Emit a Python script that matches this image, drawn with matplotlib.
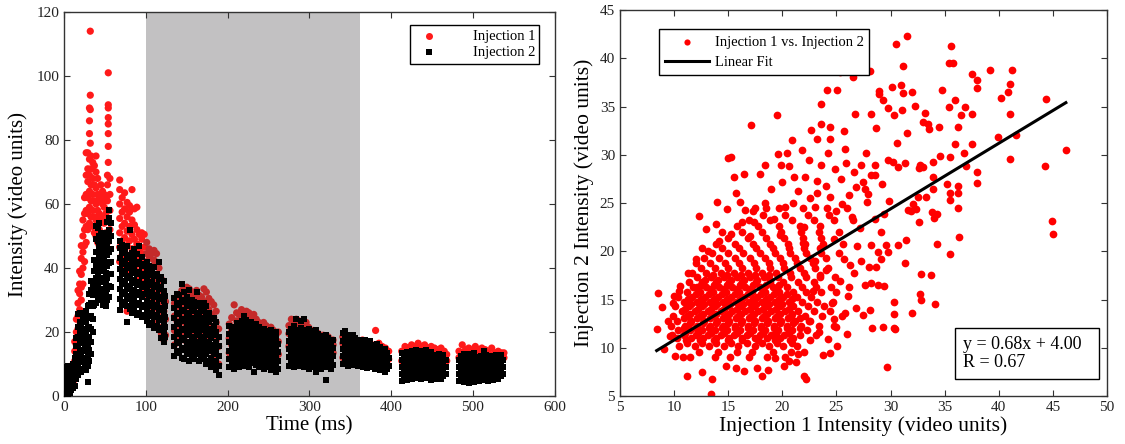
import numpy as np
import matplotlib.pyplot as plt

plt.rcParams['font.family'] = ['Liberation Serif', 'DejaVu Serif']

# ---- left panel: intensity vs time, one (time, [values]) entry per frame ----
inj1_frames = [
    # burst 1
    (1, [1.5, 4.0, 6.5, 9.0]), (3, [2.0, 5.0, 8.0]), (5, [1.0, 3.5, 6.0, 8.5]),
    (7, [2.5, 5.5, 8.0]), (9, [3.0, 6.0, 9.0]), (11, [4.0, 7.0, 10.0]),
    (13, [8.0, 11.0, 14.0, 17.0]), (15, [12.0, 16.0, 20.0, 24.0]),
    (17, [17.0, 21.0, 25.0, 29.0, 33.0]), (19, [22.0, 27.0, 32.0, 35.0, 39.0]),
    (21, [30.0, 34.0, 38.0, 43.0, 47.0]), (23, [35.0, 40.0, 45.0, 50.0, 55.0]),
    (25, [42.0, 47.0, 52.0, 57.0, 62.0]), (27, [48.0, 53.0, 58.0, 63.0, 69.0, 76.0]),
    (29, [52.0, 57.0, 62.0, 67.0, 71.0, 76.0]),
    (31, [54.0, 59.0, 64.0, 69.0, 74.0, 82.0, 86.0, 90.0]),
    (32, [114.0, 94.0, 89.5, 79.0]), (33, [56.0, 61.0, 66.0, 71.0, 75.0]),
    (35, [53.0, 58.0, 63.0, 68.0, 73.0]), (37, [51.0, 56.0, 61.0, 66.0, 72.0]),
    (39, [50.0, 55.0, 60.0, 65.0, 70.0, 75.0]), (41, [48.0, 53.0, 58.0, 63.0, 68.0]),
    (43, [47.0, 52.0, 57.0, 62.0]), (45, [46.0, 51.0, 56.0, 61.0, 66.0]),
    (47, [45.0, 50.0, 55.0, 60.0, 64.0]), (49, [44.0, 49.0, 54.0, 59.0, 63.0]),
    (51, [46.0, 51.0, 57.0, 62.0]), (53, [48.0, 55.0, 61.0, 66.0, 69.0]),
    (54, [101.0, 91.0, 90.0, 87.0, 85.0, 82.0, 78.0, 73.0]), (56, [52.0, 58.0, 63.0, 68.0]),
    # burst 2
    (68, [42.0, 46.5, 51.0, 55.5, 60.0, 64.5, 67.5]), (71, [44.0, 48.5, 53.0, 57.5, 62.0]),
    (74, [40.5, 45.0, 49.5, 54.0, 58.5, 63.5]), (77, [26.5, 42.5, 47.0, 51.5, 56.0, 60.5]),
    (80, [39.5, 44.0, 48.5, 53.0, 57.5, 59.5]), (83, [41.5, 46.0, 50.5, 55.0, 64.5]),
    (86, [40.0, 44.5, 49.0, 53.5, 58.5]), (89, [38.5, 43.0, 47.5, 52.0, 59.0]),
    (92, [37.0, 41.5, 46.0, 50.5]), (95, [35.5, 40.0, 44.5, 49.0, 51.0]),
    (98, [33.0, 37.5, 42.0, 46.5, 50.5]), (101, [31.0, 35.5, 40.0, 44.5, 48.0]),
    (104, [29.5, 34.0, 38.5, 43.0, 46.0]), (107, [27.0, 31.5, 36.0, 40.5, 44.5]),
    (110, [24.5, 29.0, 33.5, 38.0, 42.5, 45.5]), (113, [23.0, 27.5, 32.0, 36.5, 41.0, 44.5]),
    (116, [21.5, 26.0, 30.5, 35.0, 40.0]), (119, [19.5, 24.0, 28.5, 33.0, 36.5]),
    (122, [17.5, 22.0, 26.5, 31.0]), (124, [19.0, 24.0, 29.5]),
    # burst 3
    (135, [16.0, 20.5, 25.0, 29.0]), (138, [18.0, 23.5, 28.0, 31.0]), (141, [21.0, 26.0, 30.5]),
    (144, [19.5, 25.0, 30.0, 33.0]), (147, [17.5, 23.0, 28.5, 32.0]),
    (150, [22.0, 27.0, 31.5, 34.0]), (153, [20.5, 26.5, 30.5, 33.5]),
    (156, [19.0, 25.0, 29.5, 32.5]), (159, [21.5, 27.0, 31.0]),
    (162, [20.0, 25.5, 30.0, 33.0]), (165, [18.5, 24.0, 28.5, 31.5]),
    (168, [17.0, 23.0, 28.0, 31.0]), (171, [19.5, 25.0, 29.5, 33.5]),
    (174, [18.0, 23.5, 28.5, 32.5]), (177, [16.0, 21.5, 27.0, 30.5]),
    (180, [15.0, 20.5, 25.5, 29.5]), (183, [13.5, 19.0, 24.5, 28.5]),
    (186, [12.0, 17.5, 23.0, 26.5]), (189, [10.0, 15.5, 21.0]),
    # burst 4
    (202, [13.5, 18.0, 22.5]), (205, [16.0, 20.5, 24.5]), (208, [17.5, 21.5, 28.5]),
    (211, [19.0, 23.5, 26.0]), (214, [18.0, 22.5, 25.5]), (217, [19.5, 23.5, 27.0]),
    (220, [17.0, 21.0, 25.5]), (223, [19.0, 23.0, 26.5]), (226, [20.5, 24.0, 26.0]),
    (229, [18.5, 22.0, 25.0]), (232, [19.5, 23.0, 25.5]), (235, [17.5, 21.0, 24.0]),
    (238, [18.0, 21.5, 23.0]), (241, [16.5, 20.0, 22.5]), (244, [17.0, 20.5, 23.0]),
    (247, [16.0, 19.5, 22.0]), (250, [15.5, 18.5, 21.0]), (253, [16.5, 19.5, 21.5]),
    (256, [14.5, 18.0, 20.5]), (259, [8.0, 15.5, 19.0]), (262, [13.0, 17.0, 20.0]),
    # burst 5
    (275, [15.5, 19.5, 22.0]), (278, [17.0, 20.5, 24.0]), (281, [18.5, 21.5, 23.5]),
    (284, [17.5, 21.0, 24.0]), (287, [19.0, 22.0, 23.5]), (290, [17.0, 20.5, 22.5]),
    (293, [18.5, 21.5]), (296, [17.5, 20.5, 23.0]), (299, [16.5, 19.5, 21.5]),
    (302, [17.5, 20.5]), (305, [16.0, 19.0, 20.5]), (308, [16.5, 18.5, 20.0]),
    (311, [15.5, 18.0, 19.5]), (314, [16.0, 18.5]), (317, [14.5, 17.0, 19.0]),
    (320, [15.0, 17.5]), (323, [14.0, 16.5, 18.5]), (326, [14.5, 17.0]),
    (329, [13.5, 16.0, 17.5]),
    # burst 6
    (341, [12.0, 16.5, 18.5]), (345, [14.5, 17.5]), (349, [15.5, 17.5]), (353, [14.0, 17.0]),
    (357, [15.0, 17.0]), (361, [14.5, 16.5]), (365, [15.5, 17.5]), (369, [14.0, 16.5]),
    (373, [15.0, 17.0]), (377, [13.5, 16.0]), (381, [14.5, 20.5]), (385, [13.5, 16.5]),
    (389, [13.0, 15.5]), (393, [12.0, 15.0]), (397, [11.5, 14.0]),
    # burst 7
    (413, [11.0, 14.0]), (417, [12.0, 15.5]), (421, [13.0, 15.0]), (425, [14.0, 16.0]),
    (429, [13.5, 15.5]), (433, [14.5, 16.5]), (437, [13.0, 15.5]), (441, [14.0, 16.0]),
    (445, [13.5, 15.0]), (449, [14.0, 15.5]), (453, [13.0, 15.0]), (457, [12.5, 14.5]),
    (461, [13.5, 15.0]), (465, [12.0, 14.0]), (468, [11.0, 13.0]),
    # burst 8
    (483, [12.0, 14.0]), (487, [13.5, 16.0]), (491, [12.5, 14.5]), (495, [13.0, 15.0]),
    (499, [12.5, 14.0]), (503, [13.5, 15.5]), (507, [12.0, 14.5]), (511, [13.0, 15.0]),
    (515, [12.5, 14.5]), (519, [11.5, 13.5]), (523, [12.5, 15.0]), (527, [11.5, 13.5]),
    (531, [12.5, 14.0]), (535, [11.5, 13.5]), (538, [12.0, 13.5]),
]

inj2_frames = [
    # burst 1
    (1, [0.5, 2.5, 4.2, 6.1, 7.8, 9.0]), (3, [1.2, 3.4, 5.3, 7.2, 8.6]),
    (5, [0.3, 2.0, 3.9, 5.8, 7.5, 9.5]), (7, [1.0, 2.8, 4.7, 6.6, 8.3]),
    (9, [1.8, 3.6, 5.5, 7.4, 9.3]), (11, [2.5, 4.4, 6.3, 8.2, 10.1]),
    (13, [3.0, 5.5, 8.0, 10.5, 12.0]), (15, [5.2, 7.8, 10.4, 13.0, 15.6, 18.0]),
    (17, [6.5, 9.5, 12.5, 15.5, 18.5, 21.5, 25.5]), (19, [8.0, 11.0, 14.0, 17.0, 20.0, 23.0, 26.0]),
    (21, [7.5, 10.5, 13.5, 16.5, 19.5, 22.5]), (23, [8.5, 11.5, 14.5, 17.5, 20.5, 24.0]),
    (25, [9.0, 12.0, 15.0, 18.0, 21.0, 25.0]), (27, [8.0, 11.0, 14.0, 17.0, 20.0, 23.0, 26.5]),
    (29, [4.5, 9.5, 12.5, 15.5, 18.5, 21.5, 24.5, 28.0]),
    (31, [11.0, 14.5, 18.0, 21.5, 25.0, 28.5, 32.0]),
    (33, [13.0, 17.0, 21.0, 25.0, 29.0, 33.0, 36.0]), (35, [20.0, 24.0, 28.0, 31.5, 35.0]),
    (37, [28.5, 32.0, 35.5, 39.0, 42.5]), (39, [29.0, 33.0, 37.0, 41.0, 45.0, 49.0, 53.0]),
    (41, [31.0, 34.5, 38.0, 41.5, 45.0, 48.5, 52.5]), (43, [32.5, 36.0, 39.5, 43.0, 46.5, 50.0, 54.0]),
    (45, [30.0, 33.5, 37.0, 40.5, 44.0, 47.5, 51.0]), (47, [28.5, 32.0, 35.5, 39.0, 42.5, 46.0, 49.5]),
    (49, [29.5, 33.0, 36.5, 40.0, 43.5, 47.0]), (51, [28.0, 31.5, 35.0, 38.5, 42.0, 45.5, 49.0]),
    (53, [30.0, 33.5, 37.0, 40.5, 44.0, 47.5, 51.0, 54.5]),
    (55, [31.0, 34.5, 38.0, 41.5, 45.0, 48.5, 52.0, 55.5, 58.0]),
    (57, [34.0, 38.0, 42.0, 46.0, 50.0, 54.0]),
    # burst 2
    (68, [27.0, 30.2, 33.4, 36.6, 39.8, 43.0, 46.2, 48.5]), (71, [28.6, 31.8, 35.0, 38.2, 41.4, 44.6, 47.3]),
    (74, [29.4, 32.6, 35.8, 39.0, 42.2, 45.4]), (77, [23.0, 28.0, 31.2, 34.4, 37.6, 40.8, 44.0, 47.0]),
    (80, [27.2, 30.4, 33.6, 36.8, 40.0, 43.2, 52.0]), (83, [26.0, 28.8, 32.0, 35.2, 38.4, 41.6, 44.8]),
    (86, [26.8, 30.0, 33.2, 36.4, 39.6, 42.8, 46.0]), (89, [25.2, 28.4, 31.6, 34.8, 38.0, 41.2, 44.4]),
    (92, [26.0, 29.2, 32.4, 35.6, 38.8, 42.0, 47.0]), (95, [24.6, 27.8, 31.0, 34.2, 37.4, 40.6, 43.5]),
    (98, [25.4, 28.6, 31.8, 35.0, 38.2, 41.4]), (101, [23.4, 26.6, 29.8, 33.0, 36.2, 39.4, 42.0]),
    (104, [22.2, 25.0, 28.2, 31.4, 34.6, 37.8, 40.5]), (107, [22.8, 26.0, 29.2, 32.4, 35.6, 38.8]),
    (110, [21.4, 24.6, 27.8, 31.0, 34.2, 37.4, 40.2]), (113, [22.0, 25.2, 28.4, 31.6, 34.8, 38.0]),
    (116, [20.6, 23.8, 27.0, 30.2, 33.4, 36.6, 42.0]), (119, [18.0, 21.2, 24.4, 27.6, 30.8, 34.0, 37.2]),
    (122, [16.8, 20.0, 23.2, 26.4, 29.6, 32.8, 36.0]), (124, [18.4, 21.6, 24.8, 28.0, 31.2]),
    # burst 3
    (135, [12.5, 15.5, 18.5, 21.5, 24.5, 27.5, 30.5]), (138, [14.0, 17.0, 20.0, 23.0, 26.0, 29.0, 32.0]),
    (141, [13.5, 16.5, 19.5, 22.5, 25.5, 28.5, 31.5]), (144, [12.0, 15.0, 18.0, 21.0, 24.0, 27.0, 30.0, 35.0]),
    (147, [11.5, 14.5, 17.5, 20.5, 23.5, 26.5, 29.5, 32.5]), (150, [13.0, 16.0, 19.0, 22.0, 25.0, 28.0, 31.0]),
    (153, [11.0, 14.0, 17.0, 20.0, 23.0, 26.0, 29.0, 33.0]), (156, [12.5, 15.5, 18.5, 21.5, 24.5, 27.5, 30.0]),
    (159, [11.5, 14.5, 17.5, 20.5, 23.5, 26.5, 29.5]), (162, [13.0, 16.0, 19.0, 22.0, 25.0, 28.0, 32.5]),
    (165, [11.0, 14.0, 17.0, 20.0, 23.0, 26.0, 29.0]), (168, [12.5, 15.5, 18.5, 21.5, 24.5, 27.5]),
    (171, [11.5, 14.5, 17.5, 20.5, 23.5, 26.5, 29.0]), (174, [10.0, 13.0, 16.0, 19.0, 22.0, 25.0, 28.0]),
    (177, [11.0, 14.0, 17.0, 20.0, 23.0, 26.0]), (180, [9.0, 12.0, 15.0, 18.0, 21.0, 24.0]),
    (183, [10.0, 13.0, 16.0, 19.0, 22.0, 24.5]), (186, [8.0, 11.0, 14.0, 17.0, 20.0, 23.0]),
    (189, [6.5, 9.5, 12.5, 15.5, 18.5]),
    # burst 4
    (202, [9.0, 11.6, 14.2, 16.8, 19.4, 22.0]), (205, [10.3, 12.9, 15.5, 18.1, 20.7]),
    (208, [8.5, 11.1, 13.7, 16.3, 18.9, 21.5]), (211, [9.8, 12.4, 15.0, 17.6, 20.2, 22.8]),
    (214, [9.0, 11.6, 14.2, 16.8, 19.4, 22.0]), (217, [10.3, 12.9, 15.5, 18.1, 20.7, 23.3]),
    (220, [9.5, 12.1, 14.7, 17.3, 19.9, 22.5, 25.0]), (223, [10.8, 13.4, 16.0, 18.6, 21.2, 23.8]),
    (226, [9.0, 11.6, 14.2, 16.8, 19.4, 22.0]), (229, [10.3, 12.9, 15.5, 18.1, 20.7, 23.0]),
    (232, [7.5, 11.1, 13.7, 16.3, 18.9, 21.5]), (235, [9.8, 12.4, 15.0, 17.6, 20.2, 22.5]),
    (238, [9.0, 11.6, 14.2, 16.8, 19.4, 21.5]), (241, [10.3, 12.9, 15.5, 18.1, 20.7]),
    (244, [8.5, 11.1, 13.7, 16.3, 18.9, 21.0]), (247, [9.8, 12.4, 15.0, 17.6, 20.2]),
    (250, [9.0, 11.6, 14.2, 16.8, 19.4]), (253, [8.0, 10.3, 12.9, 15.5, 18.1, 20.5]),
    (256, [9.0, 11.6, 14.2, 16.8, 19.0]), (259, [7.5, 10.3, 12.9, 15.5, 18.1, 20.0]),
    (262, [8.5, 11.1, 13.7, 16.3]),
    # burst 5
    (275, [9.5, 12.1, 14.7, 17.3, 19.9]), (278, [10.8, 13.4, 16.0, 18.6, 21.0]),
    (281, [9.0, 11.6, 14.2, 16.8, 19.4, 22.0]), (284, [10.3, 12.9, 15.5, 18.1, 20.7, 24.0]),
    (287, [9.5, 12.1, 14.7, 17.3, 19.9]), (290, [10.8, 13.4, 16.0, 18.6, 21.2, 23.5]),
    (293, [9.0, 11.6, 14.2, 16.8, 19.4, 24.0]), (296, [10.3, 12.9, 15.5, 18.1, 20.7]),
    (299, [8.5, 11.1, 13.7, 16.3, 18.9, 21.0]), (302, [9.8, 12.4, 15.0, 17.6, 20.2]),
    (305, [9.0, 11.6, 14.2, 16.8, 19.4]), (308, [7.5, 10.3, 12.9, 15.5, 18.1, 20.5]),
    (311, [9.5, 12.1, 14.7, 17.3, 19.5]), (314, [8.5, 11.1, 13.7, 16.3, 18.9]),
    (317, [9.8, 12.4, 15.0, 17.6]), (320, [5.0, 9.0, 11.6, 14.2, 16.8, 19.0]),
    (323, [10.3, 12.9, 15.5, 18.1]), (326, [8.5, 11.1, 13.7, 16.3]),
    (329, [9.8, 12.4, 15.0, 17.5]),
    # burst 6
    (341, [10.0, 12.4, 14.8, 17.2, 19.6]), (344, [11.2, 13.6, 16.0, 18.4, 20.2]),
    (347, [9.5, 11.9, 14.3, 16.7, 19.1]), (350, [10.7, 13.1, 15.5, 17.9]),
    (353, [9.8, 12.2, 14.6, 17.0, 19.0]), (356, [11.0, 13.4, 15.8, 18.0]),
    (359, [9.5, 11.9, 14.3, 16.7]), (362, [10.7, 13.1, 15.5, 17.5]),
    (365, [9.2, 11.6, 14.0, 16.4]), (368, [10.4, 12.8, 15.2, 17.4]),
    (371, [8.8, 11.2, 13.6, 16.0]), (374, [10.0, 12.4, 14.8, 17.2]),
    (377, [9.0, 11.4, 13.8, 16.0]), (380, [8.5, 10.6, 13.0, 15.4]),
    (383, [9.4, 11.8, 14.2, 16.2]), (386, [8.0, 10.4, 12.8, 15.2]),
    (389, [9.2, 11.6, 14.0]), (392, [7.5, 10.0, 12.4, 14.8]),
    (395, [8.6, 11.0, 13.4]), (397, [9.5, 12.0]),
    # burst 7
    (413, [4.8, 7.0, 9.2, 11.4, 13.6]), (416, [5.9, 8.1, 10.3, 12.5]),
    (419, [5.0, 7.2, 9.4, 11.6, 13.8]), (422, [6.1, 8.3, 10.5, 12.7]),
    (425, [5.3, 7.5, 9.7, 11.9, 14.1]), (428, [6.4, 8.6, 10.8, 13.0]),
    (431, [5.6, 7.8, 10.0, 12.2, 14.4]), (434, [6.7, 8.9, 11.1, 13.3]),
    (437, [5.2, 7.4, 9.6, 11.8, 14.0]), (440, [6.3, 8.5, 10.7, 12.9]),
    (443, [5.5, 7.7, 9.9, 12.1, 14.3]), (446, [6.6, 8.8, 11.0, 13.2]),
    (449, [5.0, 7.2, 9.4, 11.6, 13.8]), (452, [6.1, 8.3, 10.5, 12.7]),
    (455, [5.4, 7.6, 9.8, 12.0]), (458, [6.5, 8.7, 10.9, 13.1]),
    (461, [5.2, 7.4, 9.6, 11.8]), (464, [6.3, 8.5, 10.7, 12.9]),
    (467, [7.0, 9.2, 11.4]),
    # burst 8
    (483, [4.8, 7.0, 9.2, 11.4]), (486, [5.9, 8.1, 10.3, 12.5]),
    (489, [4.5, 6.7, 8.9, 11.1, 13.0]), (492, [5.6, 7.8, 10.0, 12.2]),
    (495, [4.2, 6.4, 8.6, 10.8, 13.0]), (498, [5.3, 7.5, 9.7, 11.9]),
    (501, [4.5, 6.7, 8.9, 11.1, 13.3]), (504, [5.6, 7.8, 10.0, 12.2]),
    (507, [4.8, 7.0, 9.2, 11.4]), (510, [5.9, 8.1, 10.3, 12.5]),
    (513, [5.0, 7.2, 9.4, 11.6, 14.0]), (516, [6.1, 8.3, 10.5, 12.7]),
    (519, [4.8, 7.0, 9.2, 11.4]), (522, [5.9, 8.1, 10.3, 12.5]),
    (525, [5.0, 7.2, 9.4, 11.6]), (528, [6.1, 8.3, 10.5, 12.7]),
    (531, [5.2, 7.4, 9.6, 11.8]), (534, [6.3, 8.5, 10.7, 12.9]),
    (537, [7.0, 9.2, 11.4]),
]

shaded_window = (100, 362)

# ---- right panel: injection 1 vs injection 2 ----
# dense core, one (injection 2 value, [injection 1 values]) per row
core_rows = [
    (9.0, [11.5, 13.8, 15.2, 16.9, 18.6, 20.3]),
    (9.6, [12.3, 14.1, 15.8, 17.2, 19.1, 20.8, 22.0]),
    (10.2, [10.5, 11.9, 13.2, 14.6, 15.9, 17.5, 18.8, 20.1, 21.4]),
    (10.5, [11.2, 12.6, 13.9, 15.3, 16.7, 18.1, 19.5, 20.9]),
    (10.8, [11.1, 12.4, 13.7, 15.0, 16.3, 17.8, 19.3, 20.7, 22.6]),
    (11.05, [10.3, 11.6, 12.7, 13.9, 15.1, 16.3, 17.5, 18.6, 19.8, 21.0]),
    (11.3, [9.8, 10.9, 12.0, 13.1, 14.3, 15.5, 16.7, 17.9, 19.0, 20.2, 21.6, 23.1]),
    (11.55, [11.0, 12.2, 13.4, 14.6, 15.8, 17.0, 18.2, 19.4, 20.6]),
    (11.8, [10.4, 11.5, 12.6, 13.8, 14.9, 16.1, 17.3, 18.4, 19.6, 20.9, 22.3]),
    (12.05, [10.9, 12.0, 13.2, 14.4, 15.6, 16.8, 18.0, 19.2, 20.4, 21.6]),
    (12.3, [9.7, 11.0, 12.1, 13.3, 14.5, 15.6, 16.8, 18.0, 19.2, 20.4, 21.7, 23.4, 24.8]),
    (12.55, [11.5, 12.7, 13.9, 15.0, 16.2, 17.4, 18.6, 19.8, 21.0]),
    (12.8, [10.3, 11.6, 12.8, 14.0, 15.1, 16.3, 17.5, 18.7, 19.9, 21.2, 22.6]),
    (13.05, [10.9, 12.1, 13.3, 14.5, 15.7, 16.9, 18.1, 19.3, 20.5, 21.6]),
    (13.3, [9.9, 11.2, 12.4, 13.6, 14.8, 15.9, 17.1, 18.3, 19.5, 20.8, 22.1, 23.7, 25.5]),
    (13.55, [11.5, 12.7, 13.9, 15.1, 16.2, 17.4, 18.6, 19.8, 20.9]),
    (13.8, [10.7, 11.9, 13.1, 14.3, 15.4, 16.6, 17.8, 19.0, 20.3, 21.5, 22.9, 24.4]),
    (14.05, [11.0, 12.2, 13.4, 14.6, 15.8, 17.0, 18.2, 19.4, 20.6]),
    (14.3, [10.1, 11.4, 12.6, 13.8, 15.0, 16.2, 17.4, 18.6, 19.8, 21.0, 22.4, 23.9]),
    (14.55, [11.6, 12.8, 14.0, 15.2, 16.4, 17.6, 18.8, 20.0]),
    (14.8, [10.9, 12.1, 13.3, 14.5, 15.7, 16.9, 18.1, 19.3, 20.6, 21.8, 23.2, 24.7]),
    (15.05, [11.3, 12.5, 13.7, 14.9, 16.1, 17.3, 18.5, 19.7, 20.9]),
    (15.3, [10.4, 11.7, 12.9, 14.1, 15.3, 16.5, 17.7, 18.9, 20.1, 21.4, 22.7]),
    (15.55, [12.0, 13.2, 14.4, 15.6, 16.8, 18.0, 19.2, 20.4]),
    (15.8, [11.2, 12.4, 13.6, 14.8, 16.0, 17.2, 18.4, 19.7, 21.0, 22.2, 23.6, 25.0]),
    (16.05, [12.2, 13.4, 14.6, 15.8, 17.0, 18.2, 19.5]),
    (16.3, [11.8, 13.0, 14.2, 15.4, 16.6, 17.9, 19.1, 20.4, 21.8, 23.1, 24.5, 26.2]),
    (16.55, [12.5, 13.7, 14.9, 16.1, 17.3, 18.5, 19.7]),
    (16.8, [11.4, 12.6, 13.9, 15.1, 16.3, 17.6, 18.9, 20.1, 21.5, 22.9]),
    (17.05, [12.9, 14.1, 15.3, 16.5, 17.7, 18.9]),
    (17.3, [12.1, 13.4, 14.6, 15.8, 17.0, 18.3, 19.6, 20.8, 22.2, 23.5, 24.9]),
    (17.55, [13.6, 14.9, 16.2, 17.5, 18.8]),
    (17.8, [11.7, 13.0, 14.3, 15.5, 16.8, 18.1, 19.4, 20.7, 22.0]),
    (18.3, [12.5, 13.8, 15.0, 16.3, 17.6, 18.9, 20.2, 21.6, 23.0, 24.2]),
    (18.8, [12.0, 13.3, 14.7, 16.0, 17.4, 18.8, 20.1, 21.4, 22.8]),
    (19.3, [12.8, 14.2, 15.6, 17.0, 18.4, 19.8, 21.2, 22.6, 24.0]),
    (19.8, [13.5, 15.0, 16.4, 17.9, 19.3, 20.7, 22.2, 23.6, 25.2]),
    (20.3, [12.6, 14.4, 16.0, 17.6, 19.1, 20.6, 22.0, 23.5]),
    (20.8, [13.9, 15.6, 17.3, 18.9, 20.5, 22.1, 23.8, 25.6]),
    (21.4, [15.0, 16.8, 18.5, 20.2, 21.9, 23.6]),
    (22.0, [14.4, 16.3, 18.1, 19.9, 21.7, 23.4, 25.2]),
    (22.6, [15.8, 17.8, 19.7, 21.6, 23.5]),
    (23.2, [16.9, 18.9, 20.9, 22.9, 24.8, 26.5]),
    (23.8, [18.2, 20.3, 22.4, 24.3]),
    (24.5, [17.5, 19.7, 21.9, 24.1, 26.0]),
]

# scattered points outside the core, (injection 1, injection 2)
outer_pts = [
    (31.5, 42.3), (30.5, 41.5), (35.6, 41.3), (31.2, 39.2), (35.4, 39.5), (35.8, 39.5),
    (25.3, 38.6), (28.1, 38.7), (26.5, 38.1), (39.2, 38.8), (41.2, 38.8), (37.5, 38.4),
    (38.0, 37.8), (41.0, 37.4), (24.1, 36.7), (25.1, 36.7), (28.9, 36.6), (28.9, 36.3),
    (30.1, 37.0), (31.0, 37.2), (31.2, 36.4), (32.0, 36.5), (34.8, 36.7), (38.0, 36.9),
    (40.9, 36.5), (40.2, 35.9), (44.4, 35.8), (36.0, 35.7), (36.9, 35.0), (35.4, 35.0),
    (29.3, 35.7), (23.6, 35.3), (32.3, 35.1), (29.8, 34.9), (31.1, 34.7), (26.7, 34.2),
    (28.2, 34.2), (30.3, 34.1), (33.2, 34.3), (36.5, 34.1), (37.5, 34.2), (41.0, 34.2),
    (19.5, 34.1), (17.1, 33.1), (23.6, 33.2), (24.4, 32.9), (25.7, 32.5), (22.7, 32.6),
    (28.7, 32.8), (33.0, 33.4), (33.5, 33.2), (36.2, 32.9), (34.5, 32.9), (41.6, 32.1),
    (39.9, 31.9), (33.6, 32.7), (31.5, 32.3), (23.2, 31.6), (24.4, 31.6), (20.9, 31.5),
    (41.0, 29.6), (46.2, 30.5), (37.5, 31.1), (36.0, 31.1), (30.6, 31.2), (19.6, 30.1),
    (20.4, 30.2), (24.2, 30.2), (27.7, 30.2), (29.8, 29.5), (30.2, 29.3), (31.3, 29.2),
    (33.9, 29.3), (34.6, 29.9), (32.7, 29.0), (35.5, 29.8), (36.8, 30.2), (33.0, 28.7),
    (37.0, 28.9), (44.3, 28.9), (38.0, 28.2), (38.0, 27.1), (30.7, 28.7), (28.6, 29.0),
    (18.4, 29.0), (19.9, 29.0), (20.6, 28.8), (23.6, 29.0), (25.9, 29.2), (27.3, 29.0),
    (15.0, 29.7), (15.5, 27.7), (17.9, 28.0), (16.5, 28.0), (33.9, 26.5), (35.2, 27.0),
    (33.9, 27.7), (32.6, 28.6), (29.2, 27.0), (28.2, 27.9), (27.5, 27.2), (25.4, 27.5),
    (23.2, 27.3), (22.1, 27.7), (21.1, 27.7), (32.5, 25.6), (33.3, 25.6), (35.5, 26.0),
    (36.2, 26.0), (35.5, 25.3), (36.2, 26.8), (32.1, 24.9), (33.8, 24.1), (34.0, 23.5),
    (34.3, 23.9), (31.6, 24.3), (31.9, 24.2), (32.4, 24.4), (36.2, 24.5), (32.6, 23.0),
    (44.9, 23.1), (45.0, 21.8), (36.3, 21.5), (34.3, 20.8), (35.5, 19.7), (31.4, 21.2),
    (30.7, 20.7), (29.6, 20.7), (29.8, 19.9), (31.3, 18.8), (32.8, 17.7), (33.7, 17.5),
    (32.7, 15.6), (32.8, 15.0), (34.1, 14.5), (29.4, 16.4), (28.8, 16.5), (28.2, 16.7),
    (30.3, 14.7), (30.3, 13.5), (32.0, 13.6), (30.3, 12.1), (30.4, 12.0), (29.3, 12.2),
    (28.3, 12.1), (28.1, 13.9), (27.5, 13.4), (29.7, 8.0), (28.0, 18.4), (28.7, 18.4),
    (29.1, 19.2), (28.8, 19.9), (28.2, 20.7), (29.1, 22.0), (28.6, 23.4), (29.4, 23.9),
    (29.9, 25.2), (27.8, 25.1), (27.9, 25.9), (28.6, 27.9), (27.6, 26.5), (26.8, 26.7),
    (13.4, 5.2), (13.5, 6.8), (11.2, 7.1), (12.6, 7.5), (16.5, 7.6), (15.7, 7.9),
    (14.8, 8.1), (18.1, 7.1), (18.7, 7.7), (17.7, 7.9), (22.2, 6.8), (22.0, 7.1),
    (20.2, 8.1), (21.3, 8.5), (19.3, 8.9), (24.4, 9.5), (10.1, 9.2), (10.8, 9.0),
    (9.1, 9.9), (8.4, 11.9), (8.5, 15.7), (8.9, 14.2), (10.0, 15.4), (10.5, 15.9),
    (12.1, 16.3), (12.3, 23.7), (13.0, 22.3), (13.9, 22.8), (14.0, 25.1), (14.9, 24.4),
    (15.3, 29.8), (15.7, 26.1), (16.1, 25.1), (16.6, 24.3), (17.3, 24.2), (17.4, 23.0),
    (22.5, 12.8), (23.4, 11.6), (24.2, 10.9), (25.0, 12.2), (25.8, 13.6), (24.6, 14.6),
    (26.1, 15.4), (25.3, 16.9), (26.6, 17.8), (24.0, 18.1), (25.7, 19.2), (26.9, 20.6),
    (24.8, 21.3), (27.2, 22.4), (26.4, 23.6), (25.5, 24.9), (23.2, 26.1), (24.4, 25.6),
    (27.3, 19.0), (26.0, 11.4), (25.1, 10.2), (23.8, 9.3), (21.5, 9.4), (20.6, 8.6),
    (24.8, 13.0), (27.6, 16.5), (26.8, 14.1), (22.8, 15.9), (23.5, 17.6), (21.9, 20.9),
    (20.3, 24.6), (19.2, 23.4), (18.4, 25.0), (16.3, 23.0), (17.0, 21.6), (15.3, 21.8),
    (14.2, 21.1), (13.1, 20.0), (12.0, 19.2), (11.3, 17.8), (10.6, 16.4), (9.9, 14.6),
    (9.4, 12.8), (9.6, 11.2), (23.0, 19.0), (26.3, 18.6), (22.0, 22.5), (19.8, 21.7),
    (21.5, 26.3), (22.6, 25.5), (24.0, 26.8), (25.0, 24.2), (26.2, 25.8), (23.0, 24.6),
    (21.0, 25.0), (19.0, 26.5), (20.0, 27.2), (18.5, 24.5), (24.9, 28.5), (26.6, 28.2),
    (22.5, 29.5), (25.8, 30.6), (21.8, 30.5),
]

fit_slope = 0.68
fit_intercept = 4.00
fit_r = 0.67


def flatten(frames):
    t = [f[0] for f in frames for _ in f[1]]
    y = [v for f in frames for v in f[1]]
    return np.array(t, dtype=float), np.array(y)


t1, y1 = flatten(inj1_frames)
t2, y2 = flatten(inj2_frames)

cx = [x for row in core_rows for x in row[1]] + [p[0] for p in outer_pts]
cy = [row[0] for row in core_rows for _ in row[1]] + [p[1] for p in outer_pts]
cx = np.array(cx)
cy = np.array(cy)

fig = plt.figure(figsize=(11.25, 4.44), dpi=100)
ax1 = fig.add_axes([0.057, 0.108, 0.436, 0.865])
ax2 = fig.add_axes([0.551, 0.108, 0.433, 0.869])

# --- left ---
# red under the grey window comes out darker in the original
in_win = (t1 >= shaded_window[0]) & (t1 <= shaded_window[1])
red_cols = np.where(in_win, '#c42a2a', '#ff1a1a')
ax1.axvspan(shaded_window[0], shaded_window[1], color='#c2c1c2', lw=0, zorder=0)
ax1.scatter(t1, y1, s=27, c=red_cols, marker='o', lw=0, zorder=2)
ax1.scatter(t2, y2, s=21, c='black', marker='s', lw=0, zorder=3)
# legend handles
ax1.scatter([], [], s=21, c='#ff1a1a', marker='o', lw=0, label='Injection 1')
ax1.scatter([], [], s=17, c='black', marker='s', lw=0, label='Injection 2')
ax1.set_xlim(0, 600)
ax1.set_ylim(0, 120)
ax1.set_xticks(range(0, 601, 100))
ax1.set_yticks(range(0, 121, 20))
ax1.set_xlabel('Time (ms)', fontsize=15, labelpad=2)
ax1.set_ylabel('Intensity (video units)', fontsize=15, labelpad=6)
leg1 = ax1.legend(loc='upper right', bbox_to_anchor=(0.984, 0.984), fontsize=10.5,
                  fancybox=False, edgecolor='black', framealpha=1, scatterpoints=1,
                  handletextpad=2.0, borderpad=0.3, labelspacing=0.2, markerscale=1.1)
leg1.get_frame().set_linewidth(1.0)

# --- right ---
ax2.scatter(cx, cy, s=31, c='#ff0000', marker='o', lw=0, label='Injection 1 vs. Injection 2', zorder=2)
xf = np.array([cx.min(), cx.max()])
ax2.plot(xf, fit_slope * xf + fit_intercept, color='black', lw=2.2, label='Linear Fit', zorder=3)
ax2.set_xlim(5, 50)
ax2.set_ylim(5, 45)
ax2.set_xticks(range(5, 51, 5))
ax2.set_yticks(range(5, 46, 5))
ax2.set_xlabel('Injection 1 Intensity (video units)', fontsize=15.5, labelpad=2)
ax2.set_ylabel('Injection 2 Intensity (video units)', fontsize=15.5, labelpad=4)
leg2 = ax2.legend(loc='upper left', bbox_to_anchor=(0.066, 0.969), fontsize=10.5,
                  fancybox=False, edgecolor='black', framealpha=1, scatterpoints=1,
                  handlelength=3.0, handletextpad=0.4, borderpad=0.4, labelspacing=0.5,
                  markerscale=0.8)
leg2.get_frame().set_linewidth(1.0)
ax2.text(0.705, 0.065, f'y = {fit_slope:.2f}x + {fit_intercept:.2f}  \nR = {fit_r:.2f}',
         transform=ax2.transAxes, fontsize=13, ha='left', va='bottom', linespacing=1.1,
         bbox=dict(boxstyle='square,pad=0.45', fc='white', ec='black', lw=1.0), zorder=4)

for ax in (ax1, ax2):
    ax.tick_params(direction='in', top=True, right=True, length=4, width=0.8,
                   labelsize=11, labelcolor='#222222', color='#333333')
    for sp in ax.spines.values():
        sp.set_linewidth(1.0)
        sp.set_color('#333333')

fig.savefig('out.png', dpi=100)
